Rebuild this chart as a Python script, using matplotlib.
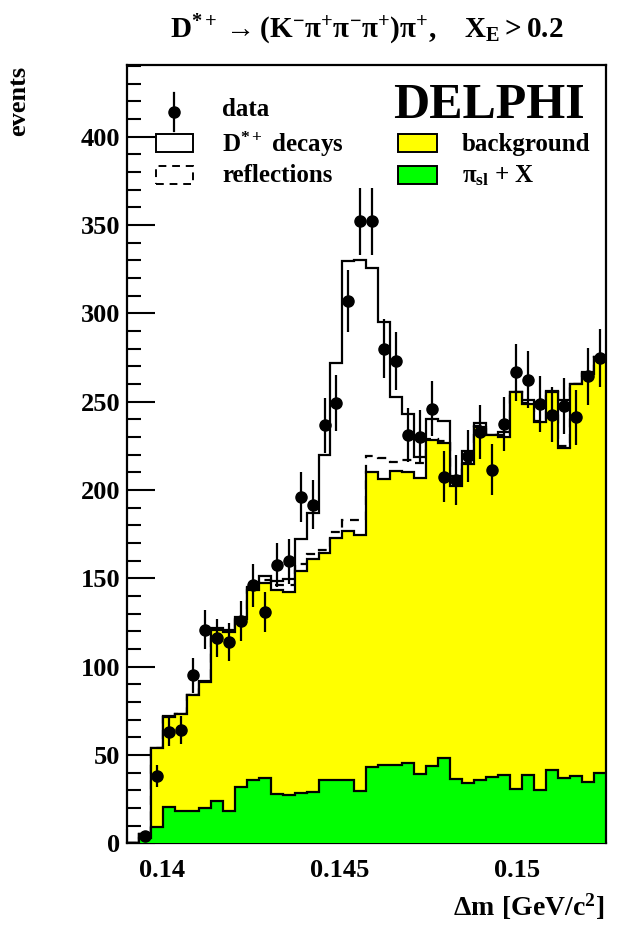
import numpy as np
import matplotlib
matplotlib.use('Agg')
import matplotlib.pyplot as plt
from matplotlib.patches import Rectangle
from matplotlib.lines import Line2D

# histogram binning (Delta m in GeV/c^2)
x_lo, x_hi, n_bins = 0.139, 0.1525, 40

data = [np.nan, 4, 38, 63, 64, 95, 121, 116, 114, 126,
        146, 131, 157.5, 159.5, 196, 191.5, 236.5, 249, 307, 352,
        352, 280, 273, 231, 230, 246, 207.5, 205.7, 219.3, 232.7,
        211.4, 237.4, 266.5, 262.3, 248.8, 242.5, 247.6, 241.2, 264.2, 274.6]

total = [0, 5, 54, 72, 73, 84, 92, 122, 121, 128,
         145, 151.5, 148.5, 149.5, 172, 187, 220, 272, 329.5, 330,
         325.5, 295, 252.5, 243, 218.5, 240, 239, 208, 222, 238,
         231, 233, 255.3, 251, 250, 256, 251, 260, 267, 275.2]

reflections = [0, 5, 54, 71.5, 73, 84, 91.5, 121, 119.5, 127,
               144.5, 149, 146, 146, 158, 163.5, 166, 176, 182.7, 182.7,
               219, 218, 216, 217, 215, 229, 227.5, 203, 215.5, 236,
               231, 231, 255.3, 249, 239, 255.5, 225, 259.9, 266, 275.2]

background = [0, 5, 54, 71.5, 73, 84, 91.5, 121, 119.5, 127,
              143.5, 147.5, 143.5, 142, 154, 161, 164.5, 173, 176.5, 174.6,
              210.4, 206.3, 210.8, 210.1, 206.7, 228.4, 226.5, 202.5, 214.8, 235.7,
              231, 230.2, 255.3, 248.6, 238.2, 255.2, 224, 259.9, 265.7, 275.2]

pi_sl = [0, 3, 9, 20.4, 18.5, 18.1, 20.2, 24, 18.5, 32.1,
         35.8, 36.8, 27.7, 27.3, 28.7, 28.9, 35.8, 35.8, 35.8, 29.6,
         43.4, 44.3, 44.3, 45.6, 39.4, 43.6, 48.5, 36.4, 34.3, 35.8,
         37.7, 38.8, 30.6, 38.8, 30.2, 41.3, 36.8, 38.1, 34.9, 39.8]

x_ticks = [0.14, 0.145, 0.15]
x_ticklabels = ['0.14', '0.145', '0.15']
y_ticks = [0, 50, 100, 150, 200, 250, 300, 350, 400]

plt.rcParams['font.family'] = ['Liberation Serif', 'DejaVu Serif']
plt.rcParams['font.weight'] = 'bold'
plt.rcParams['mathtext.fontset'] = 'custom'
plt.rcParams['mathtext.rm'] = 'Liberation Serif:bold'
plt.rcParams['mathtext.it'] = 'Liberation Serif:bold'
plt.rcParams['mathtext.bf'] = 'Liberation Serif:bold'
plt.rcParams['mathtext.fallback'] = 'stix'

W, H = 617, 926
fig = plt.figure(figsize=(W / 100, H / 100), dpi=100)
L, R, T, B = 127, 605.8, 65, 843.3
ax = fig.add_axes([L / W, 1 - B / H, (R - L) / W, (B - T) / H])

edges = np.linspace(x_lo, x_hi, n_bins + 1)
centers = 0.5 * (edges[:-1] + edges[1:])
lw = 1.6
YEL = '#ffff00'
GRN = '#00ff00'

ax.stairs(total, edges, color='black', lw=lw, zorder=2)
ax.stairs(reflections, edges, color='black', lw=lw, linestyle=(0, (4, 3)), zorder=2)
ax.stairs(background, edges, fill=True, color=YEL, zorder=3)
ax.stairs(background, edges, color='black', lw=lw, zorder=3.1)
ax.stairs(pi_sl, edges, fill=True, color=GRN, zorder=4)
ax.stairs(pi_sl, edges, color='black', lw=lw, zorder=4.1)

d = np.array(data, dtype=float)
ax.errorbar(centers, d, yerr=np.sqrt(d), fmt='o', color='black', ms=8,
            elinewidth=1.6, capsize=0, zorder=6)

ax.set_xlim(x_lo, x_hi)
ax.set_ylim(0, 440.5)
ax.set_xticks(x_ticks)
ax.set_xticklabels(x_ticklabels)
ax.set_xticks(np.arange(0.139, 0.1526, 0.001), minor=True)
ax.set_yticks(y_ticks)
ax.set_yticks(np.arange(0, 441, 10), minor=True)
ax.tick_params(which='both', direction='in', top=False, right=False, width=1.5,
               labelsize=19)
ax.tick_params(which='major', length=20)
ax.tick_params(which='minor', length=10)
ax.tick_params(axis='x', pad=11)
ax.tick_params(axis='y', pad=5)
for lab in ax.get_xticklabels() + ax.get_yticklabels():
    lab.set_fontweight('bold')
for s in ax.spines.values():
    s.set_linewidth(1.6)


def px(x, y):
    return (x / W, 1 - y / H)


fig.text(*px(367, 30), r'$\mathregular{D^{*+} \rightarrow (K^{-}\pi^{+}\pi^{-}\pi^{+})\pi^{+},\ \ \ X_{E} > 0.2}$',
         ha='center', va='center', fontsize=21)
fig.text(*px(19, 66), 'events', rotation=90, ha='center', va='top', fontsize=19, fontweight='bold')
fig.text(*px(604, 907), r'$\mathregular{\Delta m\ [GeV/c^{2}]}$', ha='right', va='center', fontsize=20)

# legend
tf = fig.transFigure
mx, my = px(174, 112)
fig.add_artist(Line2D([mx, mx], [px(0, 93)[1], px(0, 131)[1]], color='black', lw=1.6, transform=tf))
fig.add_artist(Line2D([mx], [my], marker='o', ms=8, color='black', transform=tf))
fig.text(*px(222, 110), 'data', ha='left', va='center', fontsize=18, fontweight='bold')


def box(x0, y0, x1, y1, fc, ls='-'):
    a = px(x0, y1)
    b = px(x1, y0)
    fig.add_artist(Rectangle(a, b[0] - a[0], b[1] - a[1], transform=tf, facecolor=fc,
                             edgecolor='black', lw=1.4, linestyle=ls))


box(156, 134, 193, 152, 'white')
fig.text(*px(222, 144), r'$\mathregular{D^{*+}}$ decays', ha='left', va='center', fontsize=18, fontweight='bold')
box(156, 166, 193, 184, 'white', ls=(0, (4, 3)))
fig.text(*px(222, 176), 'reflections', ha='left', va='center', fontsize=18, fontweight='bold')
box(398, 134, 437, 152, YEL)
fig.text(*px(462, 144), 'background', ha='left', va='center', fontsize=18, fontweight='bold')
box(398, 166, 437, 184, GRN)
fig.text(*px(462, 176), r'$\mathregular{\pi_{sl}}$ + X', ha='left', va='center', fontsize=18, fontweight='bold')
fig.text(*px(489, 106), 'DELPHI', ha='center', va='center', fontsize=36, fontweight='bold')

fig.savefig('out.png', dpi=100)
